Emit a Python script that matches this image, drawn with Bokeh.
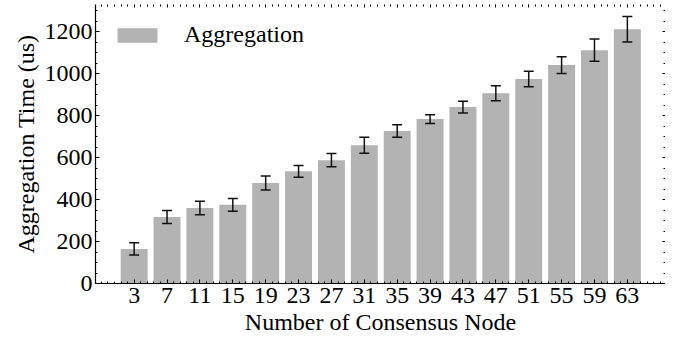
from bokeh.plotting import figure
from bokeh.models import (ColumnDataSource, Whisker, TeeHead, FixedTicker,
                          LinearAxis, Range1d)
from bokeh.embed import file_html
from bokeh.resources import INLINE

# ---- data ----
nodes = [3, 7, 11, 15, 19, 23, 27, 31, 35, 39, 43, 47, 51, 55, 59, 63]
agg_time = [165, 317, 360, 375, 479, 535, 588, 659, 727, 784, 841, 907, 975, 1041, 1112, 1212]
agg_err = [29, 31, 32, 30, 33, 28, 32, 38, 30, 21, 28, 36, 37, 40, 53, 61]
y_major = [0, 200, 400, 600, 800, 1000, 1200]
y_minor = list(range(0, 1301, 50))

FONT = "Liberation Serif"
FS = "24px"

idx = list(range(len(nodes)))
src = ColumnDataSource(dict(
    x=idx, top=agg_time,
    upper=[v + e for v, e in zip(agg_time, agg_err)],
    lower=[v - e for v, e in zip(agg_time, agg_err)],
))

p = figure(width=665, height=337, output_backend="svg", toolbar_location=None,
           x_range=Range1d(-1.176, len(nodes) - 1 + 1.16), y_range=Range1d(0, 1330),
           min_border_left=95, min_border_right=0, min_border_top=4, min_border_bottom=0)
p.outline_line_color = None
p.xgrid.visible = False
p.ygrid.visible = False
p.background_fill_color = "white"
p.border_fill_color = "white"

p.vbar(x="x", top="top", width=0.82, source=src, fill_color="#b3b3b3",
       line_color=None, legend_label="Aggregation")

w = Whisker(base="x", upper="upper", lower="lower", source=src,
            line_color="#111111", line_width=1.5, level="overlay",
            upper_head=TeeHead(size=10, line_color="#111111", line_width=1.5),
            lower_head=TeeHead(size=10, line_color="#111111", line_width=1.5))
p.add_layout(w)

x_minor = [i * 0.2 - 1.0 for i in range(0, 5 * (len(nodes) + 1) + 1)]
xt = FixedTicker(ticks=idx, minor_ticks=x_minor)
yt = FixedTicker(ticks=y_major, minor_ticks=y_minor)

def style_main(ax):
    ax.major_label_text_font = FONT
    ax.major_label_text_font_size = FS
    ax.major_label_text_color = "black"
    ax.axis_label_text_font = FONT
    ax.axis_label_text_font_size = FS
    ax.axis_label_text_font_style = "normal"
    ax.axis_label_text_color = "black"
    ax.axis_line_color = "black"
    ax.axis_line_width = 1.2
    ax.major_tick_in = 4
    ax.major_tick_out = 0
    ax.minor_tick_in = 2
    ax.minor_tick_out = 0
    ax.major_tick_line_color = "black"
    ax.minor_tick_line_color = "black"

xa = p.xaxis[0]
xa.ticker = xt
xa.major_label_overrides = {i: str(n) for i, n in zip(idx, nodes)}
xa.axis_label = "Number of Consensus Node"
style_main(xa)
xa.major_label_standoff = 4
xa.axis_label_standoff = 3

ya = p.yaxis[0]
ya.ticker = yt
ya.axis_label = "Aggregation Time (us)"
style_main(ya)
ya.major_label_standoff = 3
ya.axis_label_standoff = 3

def mirror(ticker):
    ax = LinearAxis(ticker=ticker)
    ax.axis_line_color = None
    ax.major_label_text_font_size = "0px"
    ax.major_label_standoff = 0
    ax.major_tick_in = 3
    ax.major_tick_out = 0
    ax.minor_tick_in = 2
    ax.minor_tick_out = 0
    ax.major_tick_line_color = "black"
    ax.minor_tick_line_color = "black"
    return ax

top_ax = mirror(xt)
top_ax.major_label_overrides = {i: "" for i in idx}
p.add_layout(top_ax, "above")
right_ax = mirror(yt)
right_ax.major_label_overrides = {v: "" for v in y_major}
p.add_layout(right_ax, "right")

lg = p.legend[0]
lg.location = "top_left"
lg.margin = 17
lg.padding = 0
lg.border_line_color = None
lg.background_fill_alpha = 0
lg.glyph_width = 50
lg.glyph_height = 18
lg.label_standoff = 22
lg.label_text_font = FONT
lg.label_text_font_size = FS
lg.label_text_color = "black"

open("out.html", "w").write(file_html(p, INLINE))
